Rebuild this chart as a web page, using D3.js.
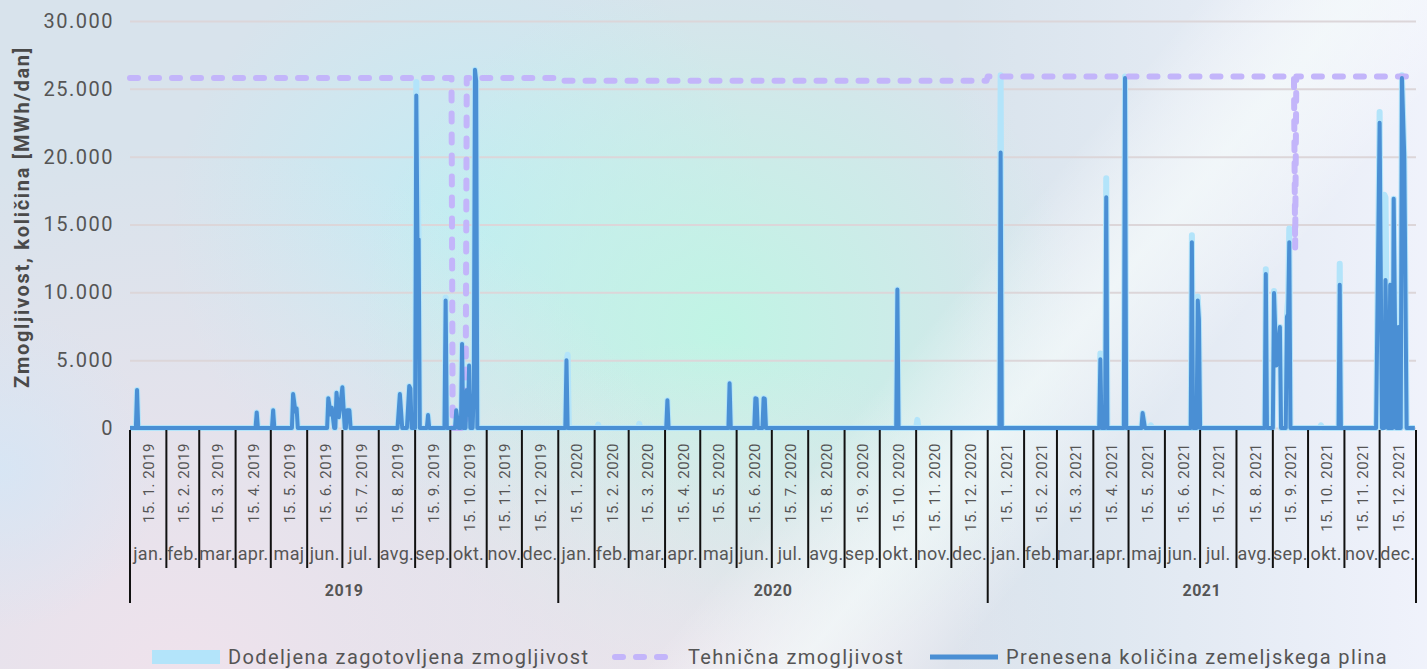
<!DOCTYPE html>
<html>
<head>
<meta charset="utf-8">
<script src="https://cdn.jsdelivr.net/npm/d3@7"></script>
<style>
html,body{margin:0;padding:0;width:1427px;height:669px;overflow:hidden;}
svg{display:block;font-family:Roboto,"Noto Sans",sans-serif;}
</style>
</head>
<body>
<svg id="chart" width="1427" height="669"></svg>
<script>
// ---------------- DATA ----------------
const yTicks = [0, 5000, 10000, 15000, 20000, 25000, 30000];
const monthNames = ["jan.","feb.","mar.","apr.","maj","jun.","jul.","avg.","sep.","okt.","nov.","dec."];
const years = ["2019","2020","2021"];
const yAxisTitle = "Zmogljivost, količina [MWh/dan]";
const legendLabels = ["Dodeljena zagotovljena zmogljivost","Tehnična zmogljivost","Prenesena količina zemeljskega plina"];

// Tehnična zmogljivost (step values)
const technicalPoints = [
  ["2019-01-01",25800],["2019-10-02",25800],["2019-10-03",0],["2019-10-14",0],["2019-10-15",25800],
  ["2019-12-31",25800],["2020-01-01",25600],["2020-12-31",25600],["2021-01-01",25900],
  ["2021-09-19",25900],["2021-09-20",13300],["2021-09-21",25900],["2021-12-31",25900]
];

// Prenesena količina zemeljskega plina
const flowPoints = [
  ["2019-01-01",0],["2019-01-06",0],["2019-01-07",2800],["2019-01-08",0],
  ["2019-04-18",0],["2019-04-19",1150],["2019-04-20",0],
  ["2019-05-02",0],["2019-05-03",1300],["2019-05-04",0],
  ["2019-05-19",0],["2019-05-20",2500],["2019-05-22",1200],["2019-05-23",1450],["2019-05-24",0],
  ["2019-06-18",0],["2019-06-19",2200],["2019-06-21",1000],["2019-06-22",1500],["2019-06-24",0],
  ["2019-06-25",0],["2019-06-26",2600],["2019-06-28",800],["2019-07-01",3000],["2019-07-03",0],
  ["2019-07-04",0],["2019-07-05",1300],["2019-07-07",1300],["2019-07-08",0],
  ["2019-08-17",0],["2019-08-19",2500],["2019-08-21",0],
  ["2019-08-25",0],["2019-08-27",3100],["2019-08-28",2900],["2019-08-29",0],
  ["2019-09-01",0],["2019-09-02",24500],["2019-09-03",14000],["2019-09-04",13900],["2019-09-05",0],
  ["2019-09-11",0],["2019-09-12",950],["2019-09-13",0],
  ["2019-09-26",0],["2019-09-27",9400],["2019-09-28",0],
  ["2019-10-05",0],["2019-10-06",1300],["2019-10-08",0],["2019-10-10",0],["2019-10-11",6200],["2019-10-12",0],
  ["2019-10-14",0],["2019-10-15",2800],["2019-10-16",1000],["2019-10-17",4600],["2019-10-18",0],
  ["2019-10-20",0],["2019-10-21",2800],["2019-10-22",26400],["2019-10-23",25600],["2019-10-24",0],
  ["2020-01-07",0],["2020-01-08",5000],["2020-01-09",0],
  ["2020-04-02",0],["2020-04-03",2050],["2020-04-04",0],
  ["2020-05-25",0],["2020-05-26",3300],["2020-05-27",0],
  ["2020-06-16",0],["2020-06-17",2200],["2020-06-18",2150],["2020-06-19",0],
  ["2020-06-23",0],["2020-06-24",2200],["2020-06-25",2150],["2020-06-26",0],
  ["2020-10-15",0],["2020-10-16",10200],["2020-10-17",0],
  ["2021-01-11",0],["2021-01-12",20300],["2021-01-13",0],
  ["2021-04-06",0],["2021-04-07",5070],["2021-04-08",0],["2021-04-11",0],["2021-04-12",17000],["2021-04-13",0],
  ["2021-04-27",0],["2021-04-28",25800],["2021-04-29",0],
  ["2021-05-12",0],["2021-05-13",1100],["2021-05-15",0],
  ["2021-06-23",0],["2021-06-24",13700],["2021-06-25",0],["2021-06-28",0],["2021-06-29",9400],["2021-06-30",8000],["2021-07-01",0],
  ["2021-08-25",0],["2021-08-26",11350],["2021-08-27",0],
  ["2021-09-01",0],["2021-09-02",9950],["2021-09-04",4600],["2021-09-05",5500],["2021-09-07",7450],["2021-09-08",0],
  ["2021-09-12",0],["2021-09-13",8200],["2021-09-14",8400],["2021-09-15",13700],["2021-09-16",0],
  ["2021-10-27",0],["2021-10-28",10550],["2021-10-29",0],
  ["2021-11-28",0],["2021-12-01",22500],["2021-12-03",0],["2021-12-05",0],["2021-12-06",10900],["2021-12-08",0],
  ["2021-12-09",0],["2021-12-10",10550],["2021-12-11",0],["2021-12-12",0],["2021-12-13",16900],["2021-12-15",0],
  ["2021-12-16",0],["2021-12-17",7450],["2021-12-18",0],["2021-12-19",0],["2021-12-20",25800],["2021-12-22",20000],
  ["2021-12-24",0],["2021-12-31",0]
];

// Dodeljena zagotovljena zmogljivost
const allocatedPoints = [
  ["2019-01-01",0],["2019-01-06",0],["2019-01-07",2800],["2019-01-08",0],
  ["2019-04-18",0],["2019-04-19",1150],["2019-04-20",0],
  ["2019-05-02",0],["2019-05-03",1300],["2019-05-04",0],
  ["2019-05-19",0],["2019-05-20",2500],["2019-05-22",1200],["2019-05-23",1450],["2019-05-24",0],
  ["2019-06-18",0],["2019-06-19",2200],["2019-06-21",1000],["2019-06-22",1500],["2019-06-24",0],
  ["2019-06-25",0],["2019-06-26",2600],["2019-06-28",800],["2019-07-01",3000],["2019-07-03",0],
  ["2019-07-04",0],["2019-07-05",1300],["2019-07-07",1300],["2019-07-08",0],
  ["2019-08-17",0],["2019-08-19",2500],["2019-08-21",0],
  ["2019-08-25",0],["2019-08-27",3100],["2019-08-28",2900],["2019-08-29",0],
  ["2019-09-01",0],["2019-09-02",25500],["2019-09-03",18000],["2019-09-04",13900],["2019-09-05",0],
  ["2019-09-11",0],["2019-09-12",950],["2019-09-13",0],
  ["2019-09-26",0],["2019-09-27",9600],["2019-09-28",0],
  ["2019-10-05",0],["2019-10-06",1300],["2019-10-08",0],["2019-10-10",0],["2019-10-11",6200],["2019-10-12",0],
  ["2019-10-14",0],["2019-10-15",2800],["2019-10-16",1000],["2019-10-17",4600],["2019-10-18",0],
  ["2019-10-20",0],["2019-10-21",2800],["2019-10-22",26400],["2019-10-23",25600],["2019-10-24",0],
  ["2020-01-07",0],["2020-01-08",5000],["2020-01-09",5400],["2020-01-10",0],
  ["2020-02-03",0],["2020-02-04",250],["2020-02-05",0],
  ["2020-03-09",0],["2020-03-10",300],["2020-03-11",0],
  ["2020-04-02",0],["2020-04-03",2050],["2020-04-04",0],
  ["2020-05-25",0],["2020-05-26",3300],["2020-05-27",0],
  ["2020-06-16",0],["2020-06-17",2200],["2020-06-18",2150],["2020-06-19",0],
  ["2020-06-23",0],["2020-06-24",2200],["2020-06-25",2150],["2020-06-26",0],
  ["2020-10-15",0],["2020-10-16",10200],["2020-10-17",0],
  ["2020-11-01",0],["2020-11-02",600],["2020-11-03",0],
  ["2021-01-11",0],["2021-01-12",26000],["2021-01-13",0],
  ["2021-04-06",0],["2021-04-07",5500],["2021-04-08",0],["2021-04-11",0],["2021-04-12",18400],["2021-04-13",0],
  ["2021-04-27",0],["2021-04-28",25900],["2021-04-29",0],
  ["2021-05-12",0],["2021-05-13",1100],["2021-05-15",0],["2021-05-19",0],["2021-05-20",200],["2021-05-21",0],
  ["2021-06-23",0],["2021-06-24",14200],["2021-06-25",0],["2021-06-28",0],["2021-06-29",9700],["2021-06-30",8000],["2021-07-01",0],
  ["2021-08-25",0],["2021-08-26",11700],["2021-08-27",0],
  ["2021-09-01",0],["2021-09-02",10100],["2021-09-04",5400],["2021-09-05",5500],["2021-09-07",7450],["2021-09-08",0],
  ["2021-09-12",0],["2021-09-13",8200],["2021-09-14",9500],["2021-09-15",14700],["2021-09-16",0],
  ["2021-10-11",0],["2021-10-12",200],["2021-10-13",0],
  ["2021-10-27",0],["2021-10-28",12100],["2021-10-29",0],
  ["2021-11-28",0],["2021-12-01",23300],["2021-12-03",0],["2021-12-05",17200],["2021-12-06",17000],["2021-12-08",0],
  ["2021-12-09",0],["2021-12-10",10550],["2021-12-11",0],["2021-12-12",0],["2021-12-13",16900],["2021-12-15",0],
  ["2021-12-16",0],["2021-12-17",7450],["2021-12-18",0],["2021-12-19",0],["2021-12-20",26000],["2021-12-22",20000],
  ["2021-12-24",0],["2021-12-31",0]
];

// ---------------- CHART ----------------
const W = 1427, H = 669;
const svg = d3.select("#chart");
const parse = d3.utcParse("%Y-%m-%d");
const toPts = arr => arr.map(d => ({date: parse(d[0]), value: d[1]}));

const plot = {left: 130, right: 1416, top: 21, bottom: 428};
const start = parse("2019-01-01"), end = parse("2022-01-01");
const x = d3.scaleUtc().domain([start, end]).range([plot.left, plot.right]);
const y = d3.scaleLinear().domain([0, 30000]).range([plot.bottom, plot.top]);

// Background
const defs = svg.append("defs");
function radial(id, cx, cy, r, color, op) {
  const g = defs.append("radialGradient").attr("id", id).attr("gradientUnits", "userSpaceOnUse")
    .attr("cx", cx).attr("cy", cy).attr("r", r);
  g.append("stop").attr("offset", 0).attr("stop-color", color).attr("stop-opacity", op);
  g.append("stop").attr("offset", 1).attr("stop-color", color).attr("stop-opacity", 0);
}
radial("gMint", 720, 330, 360, "#bff5e4", 0.95);
radial("gCyan", 470, 230, 300, "#bdeef6", 0.8);
radial("gPink", 180, 700, 560, "#f1e2ec", 0.95);
radial("gPink2", 700, 720, 380, "#f0e4ec", 0.8);
radial("gLeftBlue", 0, 470, 160, "#d4e6f6", 0.8);
const lin = defs.append("linearGradient").attr("id", "gRight").attr("gradientUnits", "userSpaceOnUse")
  .attr("x1", 950).attr("y1", 0).attr("x2", 1427).attr("y2", 0);
lin.append("stop").attr("offset", 0).attr("stop-color", "#eef1fa").attr("stop-opacity", 0);
lin.append("stop").attr("offset", 1).attr("stop-color", "#f1f3fc").attr("stop-opacity", 0.95);
const band = defs.append("linearGradient").attr("id", "gBand").attr("gradientUnits", "userSpaceOnUse")
  .attr("x1", 1200).attr("y1", 0).attr("x2", 1380).attr("y2", 150);
band.append("stop").attr("offset", 0).attr("stop-color", "#ffffff").attr("stop-opacity", 0);
band.append("stop").attr("offset", 0.5).attr("stop-color", "#f6fbfb").attr("stop-opacity", 0.7);
band.append("stop").attr("offset", 1).attr("stop-color", "#ffffff").attr("stop-opacity", 0);

svg.append("rect").attr("width", W).attr("height", H).attr("fill", "#d8e3ec");
svg.append("rect").attr("width", W).attr("height", H).attr("fill", "url(#gCyan)");
svg.append("rect").attr("width", W).attr("height", H).attr("fill", "url(#gMint)");
svg.append("rect").attr("width", W).attr("height", H).attr("fill", "url(#gPink)");
svg.append("rect").attr("width", W).attr("height", H).attr("fill", "url(#gPink2)");
svg.append("rect").attr("width", W).attr("height", H).attr("fill", "url(#gLeftBlue)");
svg.append("rect").attr("width", W).attr("height", H).attr("fill", "url(#gRight)");
svg.append("rect").attr("width", W).attr("height", H).attr("fill", "url(#gBand)");

const textColor = "#555";

// Gridlines + y labels
const yAxis = d3.axisLeft(y).tickValues(yTicks)
  .tickFormat(d => d3.format(",")(d).replace(/,/g, "."))
  .tickSize(-(plot.right - plot.left)).tickPadding(16);
const gy = svg.append("g").attr("transform", `translate(${plot.left},0)`).call(yAxis);
gy.select(".domain").remove();
gy.selectAll(".tick line").attr("stroke", "#dcd6d9").attr("stroke-width", 2);
gy.selectAll(".tick text").attr("fill", textColor).attr("font-size", 20)
  .attr("font-family", "Roboto").attr("letter-spacing", "1.5px");

svg.append("text")
  .attr("transform", "translate(29,217) rotate(-90)")
  .attr("text-anchor", "middle")
  .attr("font-size", 20).attr("font-weight", "bold").attr("fill", "#4a4a4a")
  .attr("letter-spacing", "1.7px")
  .text(yAxisTitle);

// Series lines
const line = d3.line().x(d => x(d.date)).y(d => y(d.value));
svg.append("path").datum(toPts(allocatedPoints)).attr("d", line)
  .attr("fill", "none").attr("stroke", "#b3e4fa").attr("stroke-width", 6).attr("stroke-linejoin", "round");
svg.append("path").datum(toPts(technicalPoints)).attr("d", line)
  .attr("fill", "none").attr("stroke", "#c3b5fa").attr("stroke-width", 6)
  .attr("stroke-dasharray", "8,13").attr("stroke-linecap", "round").attr("stroke-linejoin", "round");
svg.append("path").datum(toPts(flowPoints)).attr("d", line)
  .attr("fill", "none").attr("stroke", "#4a8fd4").attr("stroke-width", 4).attr("stroke-linejoin", "round");

// X axis: months, dates, years
const months = d3.utcMonths(start, end);
const gx = svg.append("g");
months.forEach(m => {
  const isYear = m.getUTCMonth() === 0;
  gx.append("line").attr("x1", x(m)).attr("x2", x(m))
    .attr("y1", plot.bottom + 2).attr("y2", isYear ? 603 : 568)
    .attr("stroke", "#111").attr("stroke-width", 2);
  const next = d3.utcMonth.offset(m, 1);
  const xc = (x(m) + x(next)) / 2;
  gx.append("text")
    .attr("transform", `translate(${xc + 1},443) rotate(-90)`)
    .attr("text-anchor", "end").attr("dominant-baseline", "central")
    .attr("font-size", 15).attr("fill", textColor).attr("letter-spacing", "0.5px")
    .text(`15. ${m.getUTCMonth() + 1}. ${m.getUTCFullYear()}`);
  gx.append("text").attr("x", xc).attr("y", 553)
    .attr("text-anchor", "middle").attr("dominant-baseline", "central")
    .attr("font-size", 18).attr("fill", textColor).attr("letter-spacing", "0.3px")
    .text(monthNames[m.getUTCMonth()]);
});
gx.append("line").attr("x1", x(end)).attr("x2", x(end)).attr("y1", plot.bottom + 2).attr("y2", 603)
  .attr("stroke", "#111").attr("stroke-width", 2);
years.forEach(yr => {
  const a = parse(yr + "-01-01"), b = parse((+yr + 1) + "-01-01");
  gx.append("text").attr("x", (x(a) + x(b)) / 2).attr("y", 590)
    .attr("text-anchor", "middle").attr("dominant-baseline", "central")
    .attr("font-size", 16).attr("font-weight", "bold").attr("fill", textColor).attr("letter-spacing", "0.5px")
    .text(yr);
});

// Legend
const lg = svg.append("g");
const ly = 657;
lg.append("rect").attr("x", 152).attr("y", ly - 7).attr("width", 68).attr("height", 14).attr("fill", "#b3e4fa");
lg.append("text").attr("x", 228).attr("y", ly).attr("dominant-baseline", "central")
  .attr("font-size", 20).attr("fill", textColor).attr("letter-spacing", "1.4px").text(legendLabels[0]);
lg.append("line").attr("x1", 615).attr("x2", 678).attr("y1", ly).attr("y2", ly)
  .attr("stroke", "#c3b5fa").attr("stroke-width", 6).attr("stroke-dasharray", "8,13").attr("stroke-linecap", "round");
lg.append("text").attr("x", 688).attr("y", ly).attr("dominant-baseline", "central")
  .attr("font-size", 20).attr("fill", textColor).attr("letter-spacing", "1.4px").text(legendLabels[1]);
lg.append("line").attr("x1", 930).attr("x2", 998).attr("y1", ly).attr("y2", ly)
  .attr("stroke", "#4a8fd4").attr("stroke-width", 5);
lg.append("text").attr("x", 1006).attr("y", ly).attr("dominant-baseline", "central")
  .attr("font-size", 20).attr("fill", textColor).attr("letter-spacing", "1.4px").text(legendLabels[2]);
</script>
</body>
</html>
